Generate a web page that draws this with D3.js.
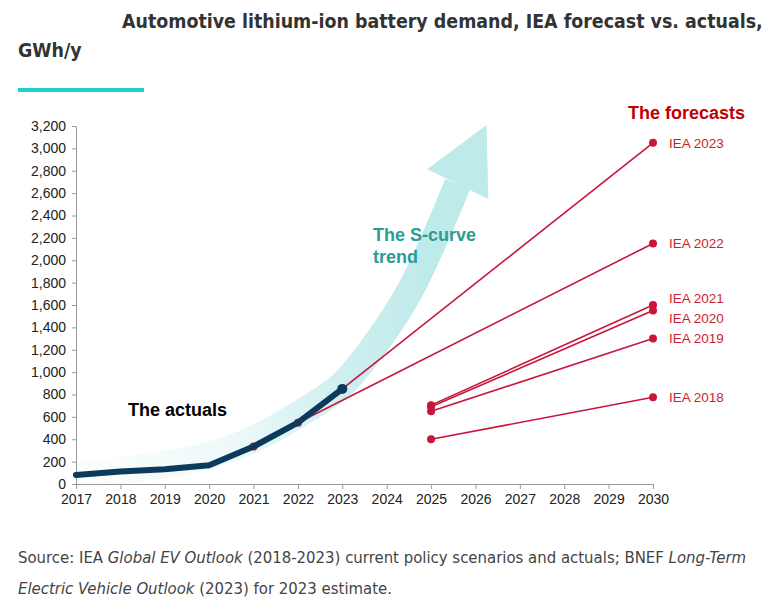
<!DOCTYPE html>
<html>
<head>
<meta charset="utf-8">
<script src="https://cdn.jsdelivr.net/npm/d3@7"></script>
<style>
  html, body { margin: 0; padding: 0; background: #fff; }
  svg { display: block; }
</style>
</head>
<body>
<svg id="chart" width="780" height="610"></svg>
<script>
// ---------------- DATA ----------------
const tickYears = [2017, 2018, 2019, 2020, 2021, 2022, 2023, 2024, 2025, 2026, 2027, 2028, 2029, 2030];
const tickValues = [0, 200, 400, 600, 800, 1000, 1200, 1400, 1600, 1800, 2000, 2200, 2400, 2600, 2800, 3000, 3200];

const actualYears = [2017, 2018, 2019, 2020, 2021, 2022, 2023];
const actualValues = [80, 112, 132, 168, 335, 548, 850];

const forecastNames = ["IEA 2023", "IEA 2022", "IEA 2021", "IEA 2020", "IEA 2019", "IEA 2018"];
const forecastYears = [
  [2023, 2030],
  [2021, 2022, 2030],
  [2025, 2030],
  [2025, 2030],
  [2025, 2030],
  [2025, 2030]
];
const forecastValues = [
  [850, 3050],
  [335, 548, 2150],
  [705, 1600],
  [690, 1550],
  [650, 1300],
  [400, 775]
];

// S-curve trend arrow (centre line, in data units)
const sCurveYears = [2017, 2018, 2019, 2020, 2021, 2022, 2023, 2023.8, 2024.5, 2025.1, 2025.6];
const sCurveValues = [75, 120, 175, 255, 400, 620, 890, 1280, 1710, 2210, 2680];
const sCurveTip = [2026.25, 3210];

// ---------------- CHART ----------------
const svg = d3.select("#chart");
const x = d3.scaleLinear().domain([2017, 2030]).range([76, 653]);
const y = d3.scaleLinear().domain([0, 3200]).range([484, 126]);

const RED = "#c8153c";
const LABEL_RED = "#cc1f2d";
const NAVY = "#0c3a5c";
const TEAL = "#2a9d94";
const ARROW = "#bfeaea";
const AXIS = "#9a9a9a";
const condFont = "'Liberation Sans Narrow', 'DejaVu Sans Condensed', sans-serif";

// Title
svg.append("text")
  .attr("x", 122).attr("y", 28)
  .attr("font-family", condFont)
  .attr("font-weight", "bold").attr("font-size", 19.4)
  .attr("fill", "#333")
  .text("Automotive lithium-ion battery demand, IEA forecast vs. actuals,");
svg.append("text")
  .attr("x", 18).attr("y", 57)
  .attr("font-family", condFont)
  .attr("font-weight", "bold").attr("font-size", 19.4)
  .attr("fill", "#333")
  .text("GWh/y");
svg.append("rect")
  .attr("x", 18).attr("y", 88).attr("width", 126).attr("height", 4)
  .attr("fill", "#1dd3cf");

// Gradient for S-curve band
const defs = svg.append("defs");
const grad = defs.append("linearGradient")
  .attr("id", "sgrad").attr("gradientUnits", "userSpaceOnUse")
  .attr("x1", x(2017)).attr("x2", x(2025)).attr("y1", 0).attr("y2", 0);
grad.append("stop").attr("offset", "0%").attr("stop-color", ARROW).attr("stop-opacity", 0.05);
grad.append("stop").attr("offset", "45%").attr("stop-color", ARROW).attr("stop-opacity", 0.28);
grad.append("stop").attr("offset", "75%").attr("stop-color", ARROW).attr("stop-opacity", 0.75);
grad.append("stop").attr("offset", "100%").attr("stop-color", ARROW).attr("stop-opacity", 1);

const sPts = sCurveYears.map((yr, i) => [x(yr), y(sCurveValues[i])]);
const sLine = d3.line().curve(d3.curveCatmullRom.alpha(0.5));
svg.append("path")
  .attr("d", sLine(sPts))
  .attr("fill", "none")
  .attr("stroke", "url(#sgrad)")
  .attr("stroke-width", 27);

// Arrow head
(function () {
  const P = sPts[sPts.length - 1];
  const T = [x(sCurveTip[0]), y(sCurveTip[1])];
  const dx = T[0] - P[0], dy = T[1] - P[1];
  const len = Math.hypot(dx, dy);
  const nx = -dy / len, ny = dx / len;
  const hw = 34;
  const pts = [T, [P[0] + nx * hw, P[1] + ny * hw], [P[0] - nx * hw, P[1] - ny * hw]];
  svg.append("polygon")
    .attr("points", pts.map(p => p.join(",")).join(" "))
    .attr("fill", ARROW);
})();

// Axes
const yAxis = d3.axisLeft(y).tickValues(tickValues).tickSize(4).tickPadding(6)
  .tickFormat(d3.format(","));
const yG = svg.append("g").attr("transform", `translate(${x(2017)},0)`).call(yAxis);
const xAxis = d3.axisBottom(x).tickValues(tickYears).tickSize(5).tickPadding(5)
  .tickFormat(d3.format("d"));
const xG = svg.append("g").attr("transform", `translate(0,${y(0)})`).call(xAxis);
[yG, xG].forEach(g => {
  g.select(".domain").attr("stroke", AXIS);
  g.selectAll(".tick line").attr("stroke", AXIS);
  g.selectAll(".tick text")
    .attr("font-family", "'Liberation Sans', Arial, sans-serif")
    .attr("font-size", 14).attr("fill", "#222");
});

// Forecast lines
const line = d3.line();
forecastNames.forEach((name, i) => {
  const pts = forecastYears[i].map((yr, j) => [x(yr), y(forecastValues[i][j])]);
  svg.append("path").attr("d", line(pts))
    .attr("fill", "none").attr("stroke", RED).attr("stroke-width", 1.6);
  pts.forEach(p => {
    svg.append("circle").attr("cx", p[0]).attr("cy", p[1]).attr("r", 4).attr("fill", RED);
  });
});

// Actuals
const aPts = actualYears.map((yr, i) => [x(yr), y(actualValues[i])]);
svg.append("path").attr("d", line(aPts))
  .attr("fill", "none").attr("stroke", NAVY).attr("stroke-width", 6)
  .attr("stroke-linejoin", "round").attr("stroke-linecap", "round");
svg.append("circle")
  .attr("cx", aPts[aPts.length - 1][0]).attr("cy", aPts[aPts.length - 1][1])
  .attr("r", 5).attr("fill", NAVY);

// Forecast labels with simple collision spreading
const labels = forecastNames.map((name, i) => {
  const v = forecastValues[i];
  return { name, ty: y(v[v.length - 1]) };
}).sort((a, b) => a.ty - b.ty);
labels.forEach(l => l.y = l.ty);
for (let iter = 0; iter < 50; iter++) {
  for (let k = 1; k < labels.length; k++) {
    const gap = labels[k].y - labels[k - 1].y;
    if (gap < 20) {
      const shift = (20 - gap) / 2;
      labels[k].y += shift;
      labels[k - 1].y -= shift;
    }
  }
}
labels.forEach(l => {
  svg.append("text")
    .attr("x", x(2030) + 16).attr("y", l.y).attr("dy", "0.35em")
    .attr("font-family", "'Liberation Sans', Arial, sans-serif")
    .attr("font-size", 13.5).attr("fill", LABEL_RED)
    .text(l.name);
});

// Annotations
svg.append("text")
  .attr("x", 628).attr("y", 119)
  .attr("font-family", "'Liberation Sans', Arial, sans-serif")
  .attr("font-weight", "bold").attr("font-size", 18).attr("fill", "#c00000")
  .text("The forecasts");
svg.append("text")
  .attr("x", 128).attr("y", 416)
  .attr("font-family", "'Liberation Sans', Arial, sans-serif")
  .attr("font-weight", "bold").attr("font-size", 18).attr("fill", "#000")
  .text("The actuals");
const sText = svg.append("text")
  .attr("font-family", "'Liberation Sans', Arial, sans-serif")
  .attr("font-weight", "bold").attr("font-size", 18).attr("fill", TEAL);
sText.append("tspan").attr("x", 373).attr("y", 241).text("The S-curve");
sText.append("tspan").attr("x", 373).attr("y", 263).text("trend");

// Source note
const s1 = svg.append("text").attr("x", 18).attr("y", 563)
  .attr("font-family", condFont).attr("font-size", 16.6).attr("fill", "#444");
s1.append("tspan").text("Source: IEA ");
s1.append("tspan").attr("font-style", "italic").text("Global EV Outlook");
s1.append("tspan").text(" (2018-2023) current policy scenarios and actuals; BNEF ");
s1.append("tspan").attr("font-style", "italic").text("Long-Term");
const s2 = svg.append("text").attr("x", 18).attr("y", 594)
  .attr("font-family", condFont).attr("font-size", 16.6).attr("fill", "#444");
s2.append("tspan").attr("font-style", "italic").text("Electric Vehicle Outlook");
s2.append("tspan").text(" (2023) for 2023 estimate.");
</script>
</body>
</html>
